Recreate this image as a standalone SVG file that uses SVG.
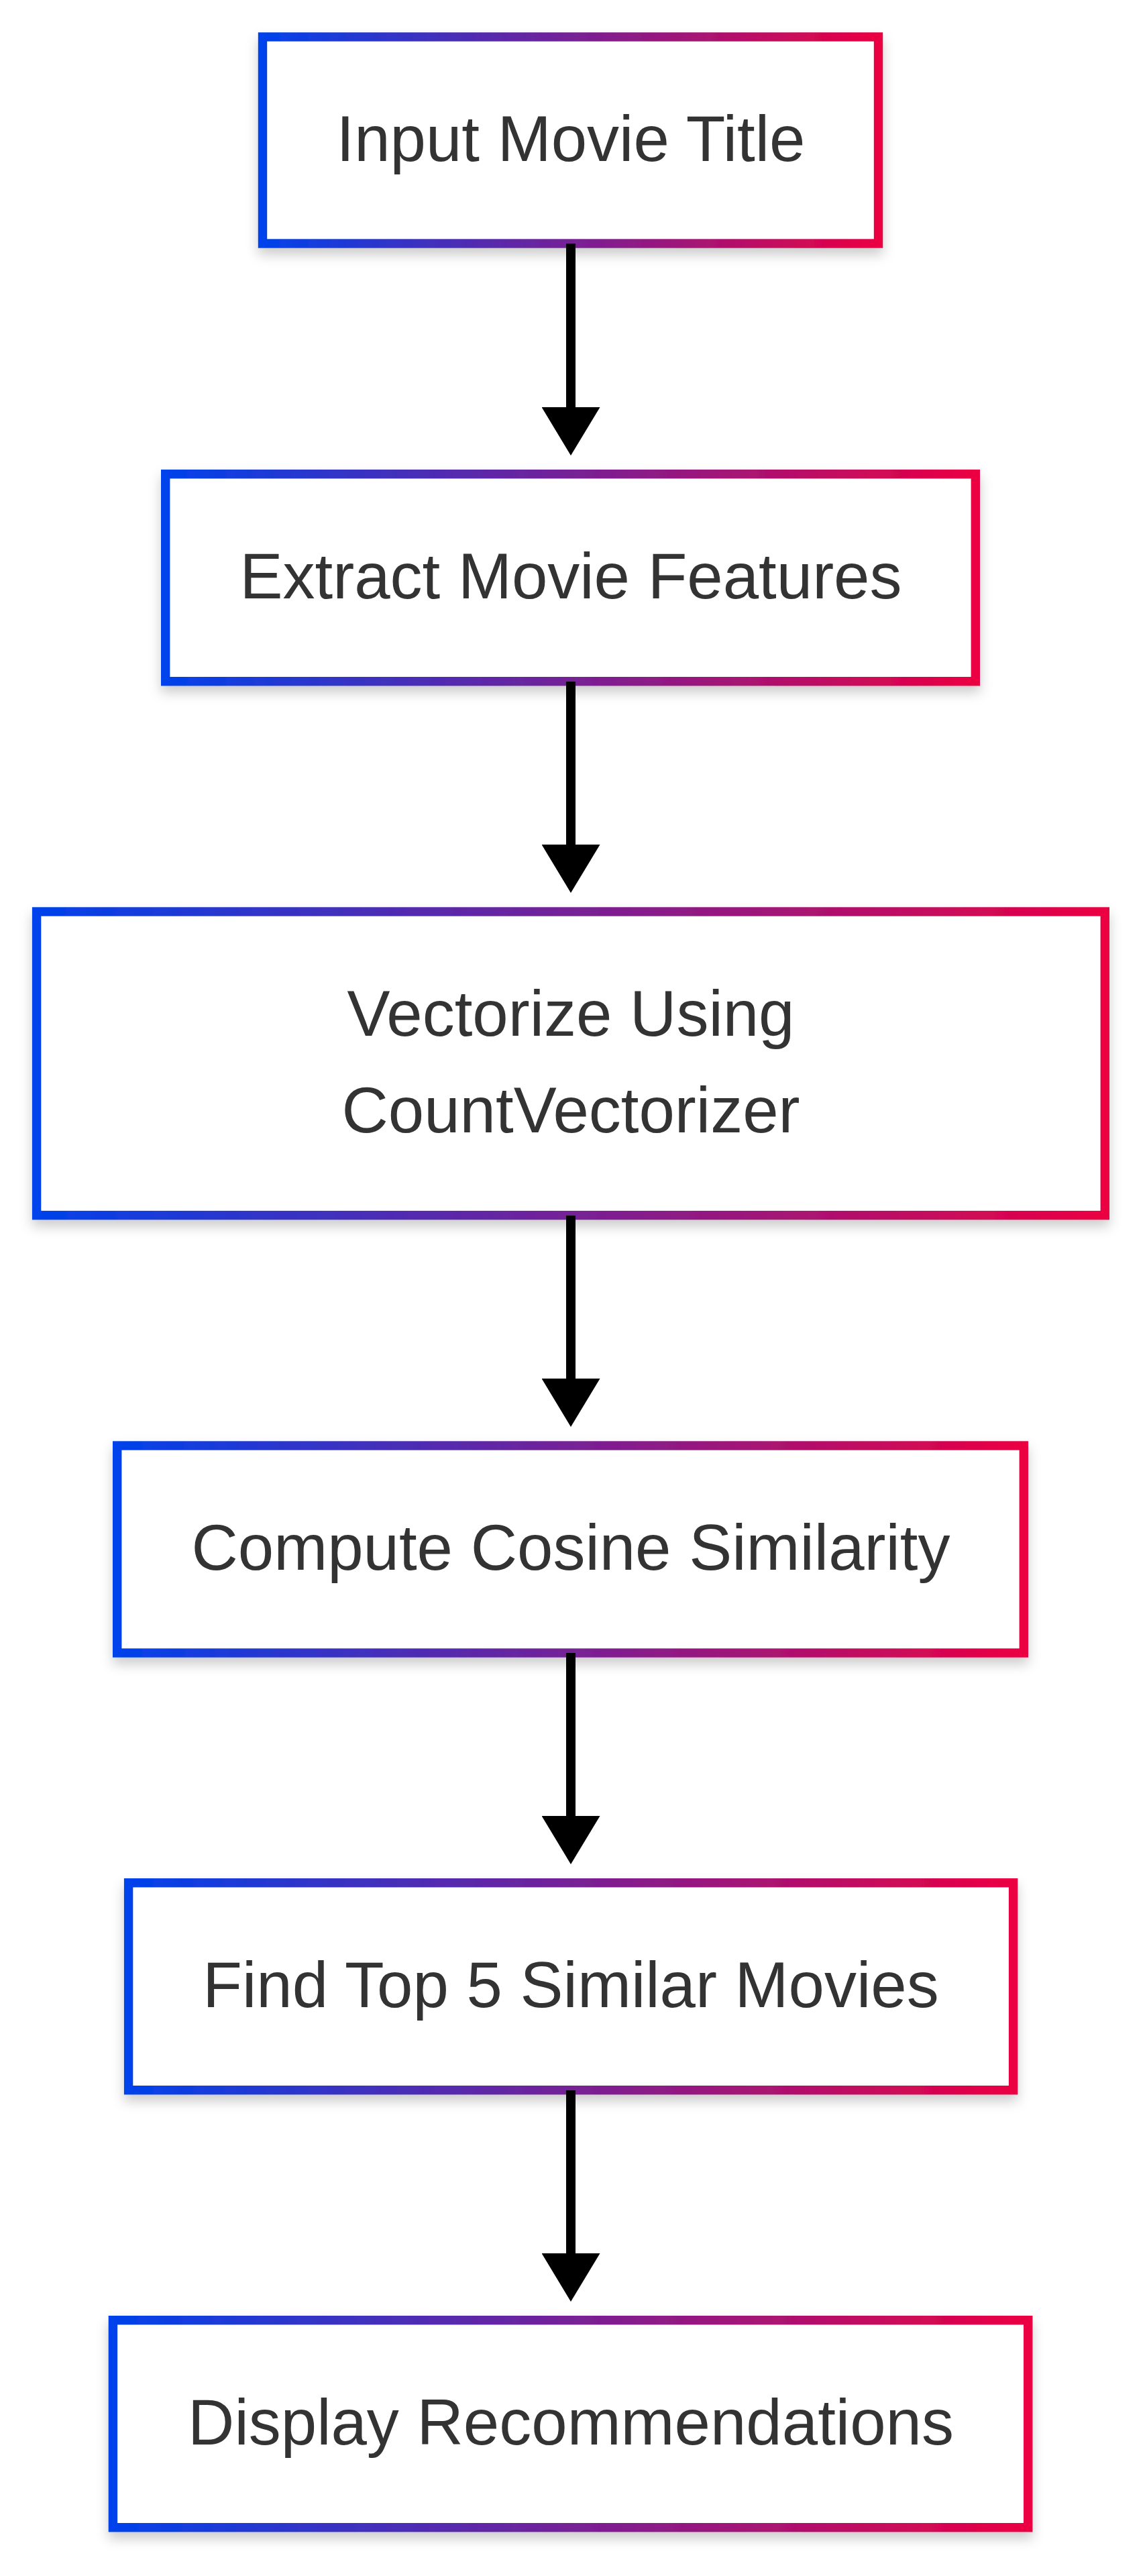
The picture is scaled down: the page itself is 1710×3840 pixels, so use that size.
<svg xmlns="http://www.w3.org/2000/svg" width="1710" height="3840" viewBox="0 0 1710 3840">
<style>
.box{fill:#ffffff;stroke:url(#grad);stroke-width:13.4;filter:url(#shadow)}
.lbl{font-family:"Liberation Sans",Arial,sans-serif;font-size:96px;fill:#333333;text-anchor:middle}
.edge{stroke:#000000;stroke-width:14;fill:none;marker-end:url(#arrow)}
</style>
<defs>
<linearGradient id="grad" x1="0" y1="0" x2="1" y2="0">
<stop offset="0" stop-color="#0042EB"/>
<stop offset="1" stop-color="#EB0042"/>
</linearGradient>
<filter id="shadow" x="-10%" y="-20%" width="120%" height="150%">
<feDropShadow dx="0" dy="10" stdDeviation="9" flood-color="#000000" flood-opacity="0.2"/>
</filter>
<marker id="arrow" markerUnits="userSpaceOnUse" viewBox="0 0 72 87" refX="0" refY="43.5" markerWidth="72" markerHeight="87" orient="auto">
<path d="M0,0 L72,43.5 L0,87 Z" fill="#000000"/>
</marker>
</defs>
<rect width="1710" height="3840" fill="#ffffff"/>
<g id="node1">
<rect class="box" x="391.5" y="55" width="918" height="308"/>
<text class="lbl" x="851" y="240">Input Movie Title</text>
</g>
<g id="node2">
<rect class="box" x="246.7" y="706.7" width="1207.6" height="309"/>
<text class="lbl" x="851" y="892">Extract Movie Features</text>
</g>
<g id="node3">
<rect class="box" x="54.6" y="1359" width="1592.7" height="452.6"/>
<text class="lbl" x="851" y="1544">Vectorize Using</text>
<text class="lbl" x="851" y="1688">CountVectorizer</text>
</g>
<g id="node4">
<rect class="box" x="174.7" y="2155" width="1351.6" height="309"/>
<text class="lbl" x="851" y="2340">Compute Cosine Similarity</text>
</g>
<g id="node5">
<rect class="box" x="191.6" y="2806.7" width="1319" height="309"/>
<text class="lbl" x="851" y="2992">Find Top 5 Similar Movies</text>
</g>
<g id="node6">
<rect class="box" x="168.4" y="3458.7" width="1364.3" height="309"/>
<text class="lbl" x="851" y="3644">Display Recommendations</text>
</g>
<g id="connectors">
<path class="edge" d="M851,363 L851,607"/>
<path class="edge" d="M851,1016 L851,1259"/>
<path class="edge" d="M851,1812 L851,2055"/>
<path class="edge" d="M851,2464 L851,2707"/>
<path class="edge" d="M851,3116 L851,3359"/>
</g>
</svg>
